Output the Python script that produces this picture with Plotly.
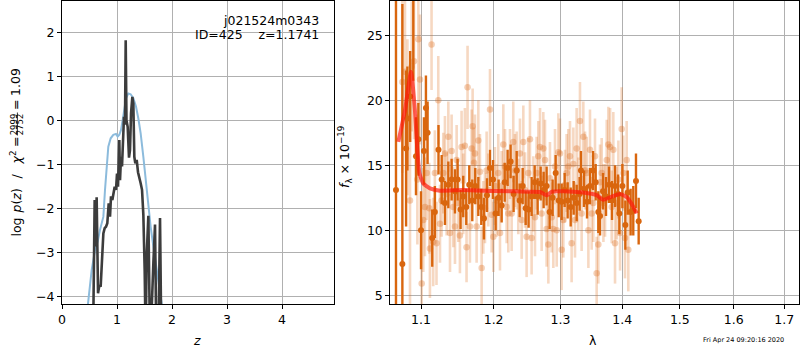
import plotly.graph_objects as go

# ---------------- data: left panel (redshift PDF) ----------------
z_fit = [0.565, 0.594, 0.612, 0.630, 0.655, 0.679, 0.703, 0.727, 0.752, 0.776, 0.800, 0.824,
         0.849, 0.873, 0.891, 0.915, 0.933, 0.958, 0.982, 1.000, 1.018, 1.042, 1.055, 1.073,
         1.091, 1.109, 1.127, 1.145, 1.158, 1.172, 1.194, 1.218, 1.236, 1.255, 1.279, 1.297,
         1.315, 1.333, 1.358, 1.382, 1.406, 1.430, 1.455, 1.479, 1.503, 1.521, 1.539, 1.570,
         1.600, 1.630, 1.661, 1.691, 1.715, 1.752, 1.782, 1.806]
logp_fit = [-5.0, -1.81, -2.87, -1.75, -3.93, -3.75, -3.78, -3.10, -2.57, -2.45, -2.42, -2.34,
            -1.89, -2.19, -1.73, -1.81, -1.66, -1.51, -1.58, -1.21, -1.51, -0.45, -1.36, -0.83,
            -1.05, -0.53, 0.08, -0.10, 1.82, 0.00, -0.15, -0.85, -0.68, 0.16, 0.53, 0.38,
            -0.83, -0.98, -0.90, -1.18, -1.28, -1.43, -1.58, -2.15, -3.40, -5.0, -3.10, -2.17,
            -5.0, -4.30, -3.25, -2.37, -5.0, -5.0, -2.22, -5.0]

z_prior = [0.461, 0.540, 0.600, 0.650, 0.691, 0.752, 0.782, 0.812, 0.842, 0.885, 0.933, 0.982,
           1.012, 1.042, 1.073, 1.103, 1.127, 1.164, 1.206, 1.248, 1.297, 1.345, 1.388, 1.430,
           1.479, 1.515, 1.570, 1.612, 1.661, 1.709, 1.758, 1.812, 1.850]
logp_prior = [-4.30, -3.40, -2.95, -2.75, -2.49, -2.19, -1.58, -0.98, -0.60, -0.41, -0.33, -0.31,
              -0.37, -0.33, -0.22, 0.00, 0.23, 0.50, 0.61, 0.59, 0.50, 0.31, 0.04, -0.30,
              -0.83, -1.28, -1.89, -2.42, -2.87, -3.33, -3.70, -4.16, -4.60]

z_ticks = [0, 1, 2, 3, 4]
logp_ticks = [-4, -3, -2, -1, 0, 1, 2]
logp_ticktext = ["\u22124", "\u22123", "\u22122", "\u22121", "0", "1", "2"]

# ---------------- data: right panel (spectrum) ----------------
wave_dark = [1.0675, 1.0757, 1.0805, 1.0822, 1.0858, 1.0899, 1.0934, 1.0965, 1.1000, 1.1039,
             1.1065, 1.1087, 1.1149, 1.1184, 1.1233, 1.1276, 1.1320, 1.1366, 1.1411, 1.1457,
             1.1493, 1.1534, 1.1571, 1.1613, 1.1655, 1.1697, 1.1739, 1.1782, 1.1824, 1.1862,
             1.1905, 1.1948, 1.1991, 1.2029, 1.2072, 1.2116, 1.2160, 1.2203, 1.2247, 1.2291,
             1.2336, 1.2380, 1.2425, 1.2470, 1.2514, 1.2559, 1.2605, 1.2650, 1.2696, 1.2741,
             1.2787, 1.2833, 1.2879, 1.2926, 1.2973, 1.3019, 1.3066, 1.3113, 1.3161, 1.3208,
             1.3256, 1.3303, 1.3324, 1.3372, 1.3421, 1.3469, 1.3518, 1.3561, 1.3604, 1.3632,
             1.3681, 1.3730, 1.3780, 1.3829, 1.3879, 1.3929, 1.3951, 1.4002, 1.4052, 1.4091,
             1.4141, 1.4186, 1.4232, 1.4278]
flux_dark = [13.1, 7.4, 16.3, 18.6, 20.3, 28.5, 15.7, 17.0, 10.0, 16.1,
             19.4, 17.5, 9.4, 11.4, 16.2, 13.9, 12.1, 13.5, 13.9, 13.0,
             13.9, 11.6, 12.6, 11.8, 13.5, 12.3, 13.4, 12.6, 11.8, 10.9,
             12.7, 14.8, 13.9, 11.3, 12.5, 11.9, 13.7, 14.8, 15.3, 12.8,
             14.6, 12.3, 13.4, 11.7, 11.6, 12.6, 13.7, 12.6, 13.6, 13.1,
             13.4, 11.4, 12.5, 14.4, 12.3, 12.2, 13.1, 12.3, 11.8, 12.5,
             12.1, 12.8, 14.6, 13.2, 12.2, 13.4, 14.6, 13.7, 11.4, 11.1,
             13.0, 12.6, 13.5, 12.3, 13.4, 12.8, 11.3, 13.4, 10.4, 12.9,
             11.4, 11.5, 13.8, 10.7]
err_dark = [16, 20, 6, 4, 3.5, 7, 3, 2.8, 3, 2.6,
            2.5, 2.4, 2.2, 2.0, 1.9, 1.9, 1.7, 1.8, 1.6, 1.7,
            1.6, 1.5, 1.6, 1.4, 1.5, 1.6, 1.4, 1.5, 1.4, 1.6,
            1.3, 1.4, 1.5, 1.3, 1.4, 1.3, 1.5, 1.4, 1.3, 1.4,
            1.5, 1.3, 1.4, 1.3, 1.4, 1.5, 1.3, 1.4, 1.3, 1.4,
            1.5, 1.3, 1.4, 1.4, 1.3, 1.4, 1.3, 1.4, 1.5, 1.3,
            1.4, 1.3, 1.5, 1.4, 1.3, 1.4, 1.5, 1.4, 1.6, 1.5,
            1.4, 1.5, 1.4, 1.5, 1.6, 1.5, 1.6, 1.7, 1.9, 1.7,
            1.8, 1.9, 2.1, 1.8]

wave_light = [1.0757, 1.0791, 1.0822, 1.0856, 1.0878, 1.0908, 1.0952, 1.0965, 1.0987, 1.1009,
              1.1030, 1.1052, 1.1074, 1.1109, 1.1118, 1.1140, 1.1162, 1.1184, 1.1206, 1.1230,
              1.1253, 1.1275, 1.1298, 1.1320, 1.1343, 1.1366, 1.1389, 1.1411, 1.1434, 1.1457,
              1.1480, 1.1503, 1.1525, 1.1548, 1.1571, 1.1594, 1.1617, 1.1631, 1.1664, 1.1688,
              1.1702, 1.1721, 1.1735, 1.1758, 1.1782, 1.1805, 1.1829, 1.1853, 1.1876, 1.1900,
              1.1924, 1.1948, 1.1972, 1.1996, 1.2019, 1.2043, 1.2067, 1.2092, 1.2116, 1.2140,
              1.2165, 1.2189, 1.2213, 1.2238, 1.2262, 1.2286, 1.2311, 1.2336, 1.2360, 1.2385,
              1.2410, 1.2435, 1.2460, 1.2484, 1.2509, 1.2534, 1.2559, 1.2585, 1.2610, 1.2635,
              1.2660, 1.2686, 1.2711, 1.2736, 1.2762, 1.2787, 1.2813, 1.2838, 1.2864, 1.2890,
              1.2916, 1.2942, 1.2968, 1.2993, 1.3019, 1.3045, 1.3071, 1.3097, 1.3124, 1.3150,
              1.3176, 1.3203, 1.3229, 1.3255, 1.3282, 1.3308, 1.3335, 1.3362, 1.3389, 1.3416,
              1.3443, 1.3469, 1.3496, 1.3523, 1.3550, 1.3577, 1.3604, 1.3632, 1.3659, 1.3687,
              1.3714, 1.3742, 1.3769, 1.3797, 1.3824, 1.3851, 1.3879, 1.3907, 1.3935, 1.3963,
              1.3990, 1.4018, 1.4046, 1.4074, 1.4102]
flux_light = [21.4, 22.2, 18.7, 12.3, 22.6, 23.0, 13.9, 24.7, 21.6, 5.9,
              10.8, 11.8, 14.4, 11.7, 8.6, 24.3, 9.1, 14.4, 9.0, 20.0,
              10.5, 12.3, 14.4, 15.9, 12.8, 17.2, 9.8, 16.1, 11.8, 10.3,
              15.4, 12.1, 9.6, 16.4, 12.8, 16.5, 8.7, 21.0, 10.3, 16.3,
              18.0, 15.2, 15.9, 10.3, 16.9, 14.5, 7.1, 11.0, 11.7, 14.6,
              13.1, 19.3, 11.2, 9.5, 13.4, 12.3, 14.4, 9.8, 13.4, 16.6,
              14.9, 11.8, 11.3, 15.1, 11.3, 16.8, 14.6, 14.6, 12.6, 15.9,
              10.8, 16.8, 13.1, 9.5, 14.4, 17.0, 9.4, 12.8, 11.0, 14.4,
              15.7, 16.4, 11.3, 16.3, 15.4, 10.1, 8.9, 14.0, 11.0, 10.1,
              14.9, 10.0, 16.0, 15.9, 8.5, 10.8, 13.4, 14.4, 14.9, 15.7,
              9.0, 15.1, 10.8, 16.3, 12.8, 18.4, 11.3, 17.2, 14.6, 14.4,
              10.0, 16.2, 11.3, 12.1, 15.7, 6.7, 8.9, 13.7, 14.4, 12.1,
              12.3, 15.4, 16.6, 16.4, 11.8, 16.2, 9.0, 12.1, 13.9, 9.8,
              17.8, 14.4, 9.4, 15.4, 8.5]
err_light = [7, 6, 6, 8, 5, 6, 5, 5, 5, 5,
             4.0, 3.8, 3.6, 3.5, 3.8, 3.5, 3.4, 3.3, 3.2, 3.4,
             3.0, 2.8, 3.1, 2.9, 3.2, 2.7, 3.0, 2.8, 3.1, 2.9,
             2.7, 3.0, 2.9, 2.8, 3.1, 2.9, 2.7, 3.2, 2.8, 3.0,
             2.9, 2.7, 3.0, 2.8, 3.1, 2.9, 3.2, 2.8, 2.7, 3.0,
             2.8, 3.1, 2.9, 2.7, 3.0, 2.8, 3.0, 2.9, 2.7, 3.1,
             2.9, 2.8, 3.0, 2.7, 2.9, 3.1, 2.8, 3.0, 2.9, 2.7,
             3.0, 2.8, 2.9, 3.1, 2.7, 3.0, 2.8, 2.9, 3.0, 2.8,
             2.7, 3.0, 2.9, 2.8, 3.1, 2.9, 3.0, 2.8, 2.7, 3.0,
             2.9, 2.8, 3.0, 2.7, 3.1, 2.9, 2.8, 3.0, 2.9, 2.7,
             3.0, 2.8, 2.9, 3.1, 2.8, 3.0, 2.9, 2.7, 3.0, 2.8,
             2.9, 3.1, 2.8, 3.0, 2.9, 2.8, 3.0, 2.9, 2.7, 3.0,
             2.8, 3.1, 2.9, 3.0, 2.8, 2.9, 3.1, 2.8, 3.0, 2.9,
             3.2, 2.9, 3.1, 3.0, 3.2]

wave_model = [1.0705, 1.0791, 1.0869, 1.0920, 1.0952, 1.0979, 1.1030, 1.1119, 1.1253, 1.1571,
              1.2043, 1.2535, 1.2686, 1.2789, 1.2867, 1.3046, 1.3361, 1.3577, 1.3684, 1.3795,
              1.3962, 1.4074, 1.4158, 1.4243]
flux_model = [16.8, 19.25, 22.2, 19.25, 16.2, 14.4, 13.6, 13.23, 13.05, 13.1,
              13.02, 12.97, 12.95, 12.7, 12.97, 13.0, 12.9, 12.7, 12.35, 12.54,
              12.8, 12.56, 12.03, 11.3]

wave_ticks = [1.1, 1.2, 1.3, 1.4, 1.5, 1.6, 1.7]
flux_ticks = [5, 10, 15, 20, 25]

# ---------------- figure ----------------
W, H = 800, 350
FONT = "DejaVu Sans"
DARK = "rgb(217,102,14)"

def px(x):
    return x / W

def py(y):
    return 1 - y / H

fig = go.Figure()

fig.add_trace(go.Scatter(x=z_prior, y=logp_prior, mode="lines",
                         line=dict(color="rgb(140,187,220)", width=2),
                         xaxis="x", yaxis="y", hoverinfo="skip"))
fig.add_trace(go.Scatter(x=z_fit, y=logp_fit, mode="lines",
                         line=dict(color="rgb(60,60,60)", width=2.6),
                         xaxis="x", yaxis="y", hoverinfo="skip"))

fig.add_trace(go.Scatter(x=wave_light, y=flux_light, mode="markers",
                         marker=dict(color="rgba(222,110,30,0.33)", size=6.5, line=dict(width=0)),
                         error_y=dict(type="data", array=err_light, color="rgba(222,110,30,0.27)",
                                      thickness=2.6, width=0),
                         xaxis="x2", yaxis="y2", hoverinfo="skip"))
fig.add_trace(go.Scatter(x=wave_dark, y=flux_dark, mode="markers",
                         marker=dict(color=DARK, size=6, line=dict(width=0)),
                         error_y=dict(type="data", array=err_dark, color=DARK,
                                      thickness=2.4, width=0),
                         xaxis="x2", yaxis="y2", hoverinfo="skip"))
fig.add_trace(go.Scatter(x=wave_model, y=flux_model, mode="lines",
                         line=dict(color="rgba(255,20,10,0.68)", width=4, shape="spline", smoothing=0.5),
                         xaxis="x2", yaxis="y2", hoverinfo="skip"))

axis_common = dict(showgrid=True, gridcolor="#b0b0b0", gridwidth=1, zeroline=False,
                   showline=True, mirror=True, linecolor="black", linewidth=1,
                   ticks="outside", ticklen=4, tickwidth=1, tickcolor="black",
                   automargin=False,
                   tickfont=dict(family=FONT, size=12.5, color="black"))

ydom = [py(304), py(1)]
fig.update_layout(
    template="none",
    width=W, height=H, margin=dict(l=0, r=0, t=0, b=0, pad=0), autosize=False,
    paper_bgcolor="white", plot_bgcolor="white", showlegend=False,
    xaxis=dict(domain=[px(62), px(334)], range=[0, 4.945], anchor="y",
               tickvals=z_ticks, ticktext=[str(v) for v in z_ticks], **axis_common),
    yaxis=dict(domain=ydom, range=[-4.175, 2.71], anchor="x",
               tickvals=logp_ticks, ticktext=logp_ticktext, **axis_common),
    xaxis2=dict(type="log", domain=[px(390.3), px(799.3)], range=[0.02541, 0.23826], anchor="y2",
                tickvals=wave_ticks, ticktext=[f"{v:.1f}" for v in wave_ticks], **axis_common),
    yaxis2=dict(domain=ydom, range=[4.33, 27.64], anchor="x2",
                tickvals=flux_ticks, ticktext=[str(v) for v in flux_ticks], **axis_common),
)

ann = []
tf = dict(family=FONT, size=12.5, color="black")
small = dict(family=FONT, size=8.5, color="black")
# panel text
ann.append(dict(text="j021524m0343", x=px(321), y=py(20), xanchor="right", yanchor="middle",
                font=tf))
ann.append(dict(text="ID=425\u00a0\u00a0\u00a0\u00a0z=1.1741", x=px(321), y=py(35), xanchor="right",
                yanchor="middle", font=tf))
# x labels
ann.append(dict(text="<i>z</i>", x=px(197), y=py(340), xanchor="center", yanchor="middle", font=tf))
ann.append(dict(text="\u03bb", x=px(593), y=py(340), xanchor="center", yanchor="middle", font=tf))
# left y label (mathtext with stacked fraction), built from pieces along the rotated baseline
YL_X = 15.5
ylabel_pieces = [("log", 227), ("<i>p</i>(<i>z</i>)", 201), ("/", 176),
                 ("<i>\u03c7</i><sup>2</sup>", 158), ("=", 142.5), ("=", 105.5), ("1.09", 82.5)]
for txt, yc in ylabel_pieces:
    ann.append(dict(text=txt, textangle=-90, x=px(YL_X), y=py(yc), xanchor="center",
                    yanchor="middle", font=tf))
ann.append(dict(text="2999", textangle=-90, x=px(14.3), y=py(124), xanchor="center",
                yanchor="middle", font=small))
ann.append(dict(text="2752", textangle=-90, x=px(20.3), y=py(124), xanchor="center",
                yanchor="middle", font=small))
# right y label
ann.append(dict(text="<i>f</i><sub>\u03bb</sub> \u00d7 10<sup>\u221219</sup>", textangle=-90,
                x=px(345), y=py(157), xanchor="center", yanchor="middle", font=tf))
# timestamp
ann.append(dict(text="Fri Apr 24 09:20:16 2020", x=px(743.5), y=py(339.5), xanchor="center",
                yanchor="middle", font=dict(family=FONT, size=6.5, color="black")))
for a in ann:
    a.update(xref="paper", yref="paper", showarrow=False)
fig.update_layout(annotations=ann)

fig.add_shape(type="line", xref="paper", yref="paper", x0=px(17.4), x1=px(17.4), y0=py(112.5),
              y1=py(135.5), line=dict(color="black", width=0.8))

fig.write_html("out.html")
